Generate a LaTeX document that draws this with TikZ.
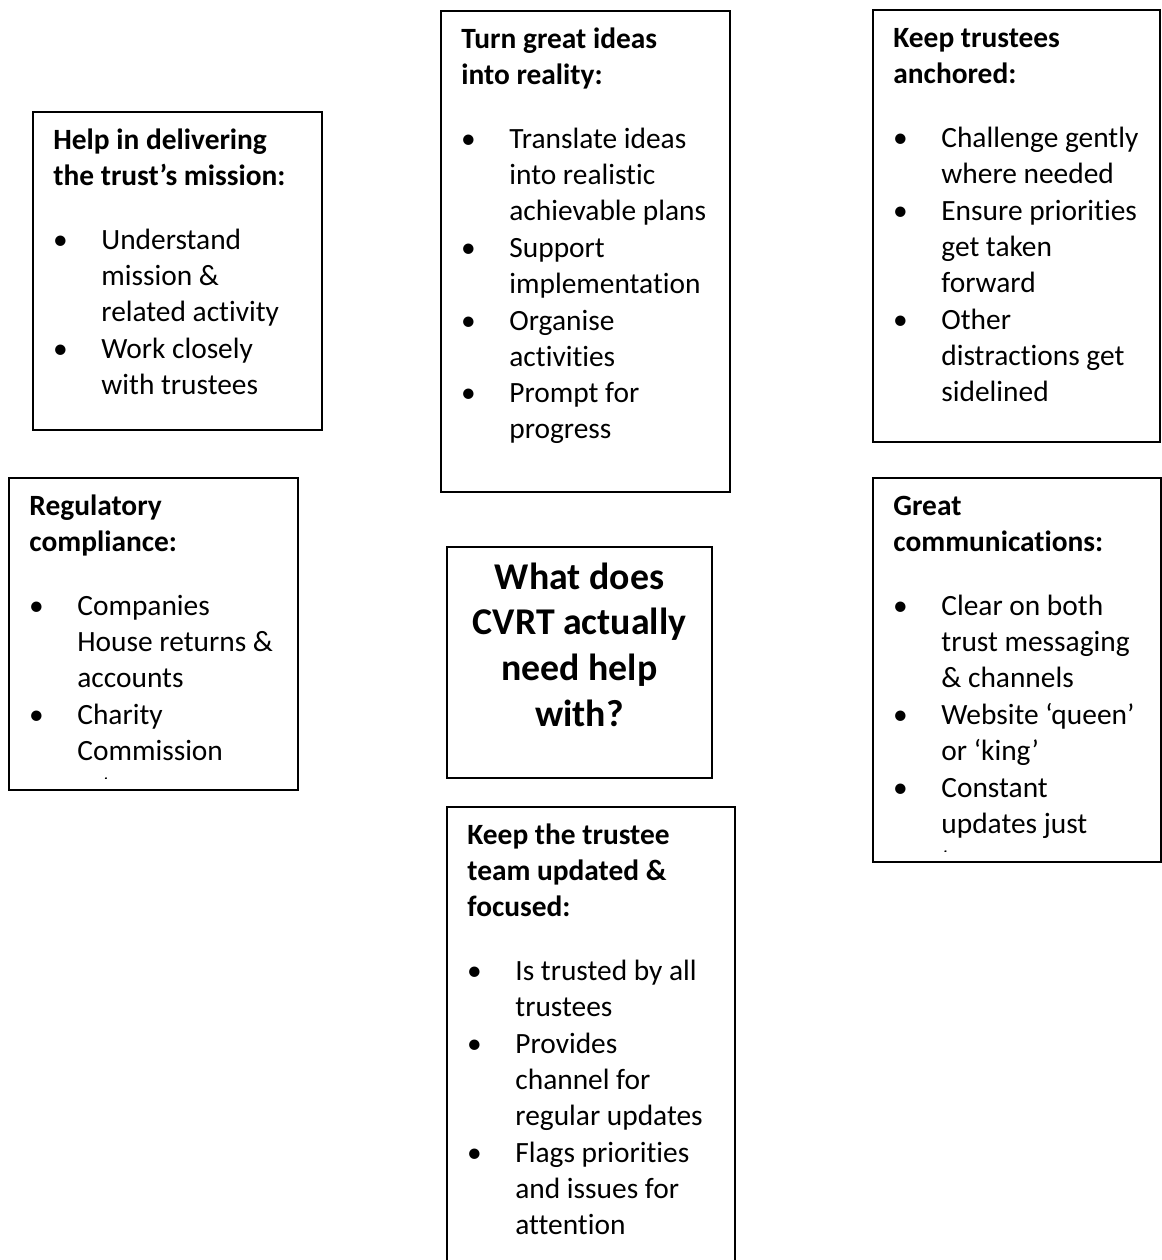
\documentclass[tikz,border=0pt]{standalone}
\usepackage{fontspec}
\setmainfont{Carlito}[Ligatures = NoCommon]
\usepackage{tkz-euclide}

\newcommand{\bul}{\makebox[24pt][l]{\hspace*{3.5pt}\makebox[0pt]{\textbullet}}}
\newcommand{\cnt}{\hspace*{24pt}}

\tikzset{
  frame/.style = {draw, line width = 1.2pt},
  list/.style = {anchor = north west, inner sep = 0pt, align = left,
    font = \fontsize{14.7}{18}\selectfont},
  ask/.style = {anchor = north, inner sep = 0pt, align = center,
    font = \fontsize{18.9}{22.8}\selectfont\bfseries}
}

\begin{document}
\begin{tikzpicture}[x = 0.5pt, y = -0.5pt]
\clip (0,0) rectangle (1162,1260);
\tkzDefPoints{33/112/H1, 322/430/H2, 53/123.8/H,
  441/11/I1, 730/492/I2, 461/22.8/I,
  873/10/A1, 1160/442/A2, 893/21.8/A,
  9/478/R1, 298/790/R2, 29/489.8/R,
  447/547/Q1, 712/778/Q2, 579.5/557/Q,
  873/478/C1, 1161/862/C2, 893/489.8/C,
  447/807/T1, 735/1300/T2, 467/818.8/T}
\draw[frame] (H1) rectangle (H2);
\draw[frame] (I1) rectangle (I2);
\draw[frame] (A1) rectangle (A2);
\draw[frame] (R1) rectangle (R2);
\draw[frame] (Q1) rectangle (Q2);
\draw[frame] (C1) rectangle (C2);
\draw[frame] (T1) rectangle (T2);

\node[list] (helptxt) at (H) {\strut\textbf{Help in delivering}\\
  \textbf{the trust’s mission:}\\[14pt]
  \bul Understand\\ \cnt mission \&\\ \cnt related activity\\[0.4pt]
  \bul Work closely\\ \cnt with trustees};

\node[list] (ideastxt) at (I) {\strut\textbf{Turn great ideas}\\
  \textbf{into reality:}\\[14pt]
  \bul Translate ideas\\ \cnt into realistic\\ \cnt achievable plans\\[0.4pt]
  \bul Support\\ \cnt implementation\\[0.4pt]
  \bul Organise\\ \cnt activities\\[0.4pt]
  \bul Prompt for\\ \cnt progress};

\node[list] (anchortxt) at (A) {\strut\textbf{Keep trustees}\\
  \textbf{anchored:}\\[14pt]
  \bul Challenge gently\\ \cnt where needed\\[0.4pt]
  \bul Ensure priorities\\ \cnt get taken\\ \cnt forward\\[0.4pt]
  \bul Other\\ \cnt distractions get\\ \cnt sidelined};

\begin{scope}
\clip (R1) rectangle (298,778.5);
\node[list] (regtxt) at (R) {\strut\textbf{Regulatory}\\
  \textbf{compliance:}\\[14pt]
  \bul Companies\\ \cnt House returns \&\\ \cnt accounts\\[0.4pt]
  \bul Charity\\ \cnt Commission\\ \cnt returns};
\end{scope}

\node[ask] (question) at (Q) {\strut What does\\ CVRT actually\\ need help\\ with?};

\begin{scope}
\clip (C1) rectangle (1161,851.5);
\node[list] (commstxt) at (C) {\strut\textbf{Great}\\
  \textbf{communications:}\\[14pt]
  \bul Clear on both\\ \cnt trust messaging\\ \cnt \& channels\\[0.4pt]
  \bul Website ‘queen’\\ \cnt or ‘king’\\[0.4pt]
  \bul Constant\\ \cnt updates just\\ \cnt to};
\end{scope}

\node[list] (teamtxt) at (T) {\strut\textbf{Keep the trustee}\\
  \textbf{team updated \&}\\ \textbf{focused:}\\[14pt]
  \bul Is trusted by all\\ \cnt trustees\\[0.4pt]
  \bul Provides\\ \cnt channel for\\ \cnt regular updates\\[0.4pt]
  \bul Flags priorities\\ \cnt and issues for\\ \cnt attention};
\end{tikzpicture}
\end{document}
